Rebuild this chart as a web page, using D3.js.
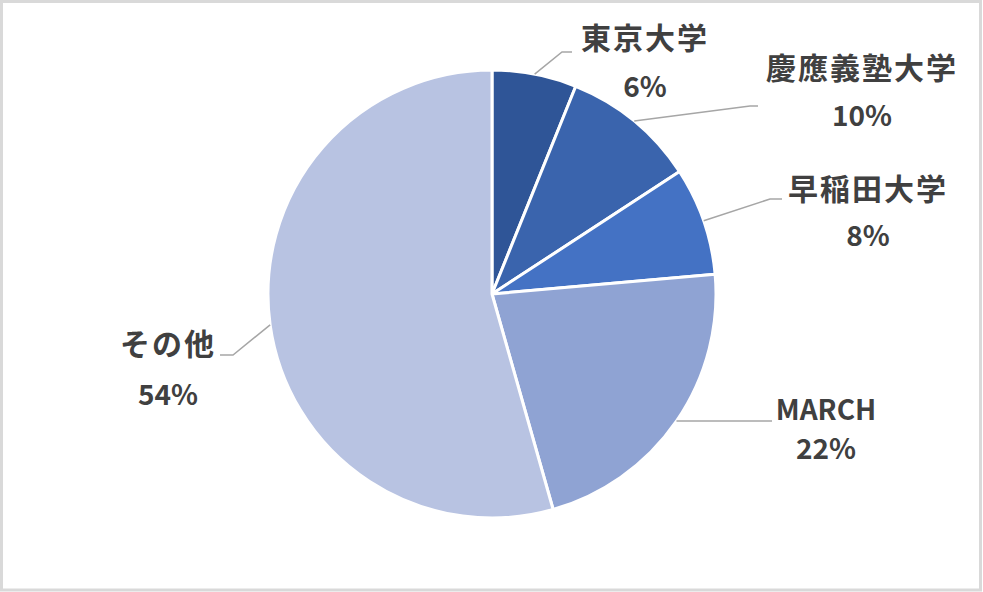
<!DOCTYPE html>
<html>
<head>
<meta charset="utf-8">
<script src="https://cdn.jsdelivr.net/npm/d3@7/dist/d3.min.js"></script>
<style>
  html, body { margin: 0; padding: 0; background: #fff; }
  svg { display: block; }
  text { font-family: "Noto Sans CJK JP", "Noto Sans", sans-serif; font-weight: 700; fill: #404040; }
</style>
</head>
<body>
<svg id="chart" width="983" height="592"></svg>
<script>
// ---- data ----
const categories = ["東京大学", "慶應義塾大学", "早稲田大学", "MARCH", "その他"];
const values = [6.1, 9.7, 7.8, 22.0, 54.4];
const percentLabels = ["6%", "10%", "8%", "22%", "54%"];
const colors = ["#2F5597", "#3A64AD", "#4472C4", "#8FA3D3", "#B8C3E2"];

// ---- layout (label placement, not data) ----
const labelLayout = [
  { x: 645, nameY: 49,  pctY: 97,  elbow: [562, 52],  end: [572, 52] },
  { x: 862, nameY: 79,  pctY: 126, elbow: [750, 106], end: [758, 106] },
  { x: 868, nameY: 200, pctY: 246, elbow: [770, 199], end: [782, 199] },
  { x: 826, nameY: 420, pctY: 459, elbow: [768, 421], end: [772, 421] },
  { x: 168, nameY: 355, pctY: 405, elbow: [233, 355], end: [220, 355] }
];

const W = 983, H = 592;
const cx = 492, cy = 294, r = 224;

const svg = d3.select("#chart");

svg.append("rect")
  .attr("x", 1.5).attr("y", 1.5)
  .attr("width", W - 4).attr("height", H - 3.5)
  .attr("fill", "#fff")
  .attr("stroke", "#D9D9D9")
  .attr("stroke-width", 3);

const data = categories.map((c, i) => ({ name: c, value: values[i], pct: percentLabels[i], color: colors[i], layout: labelLayout[i] }));

const pie = d3.pie().value(d => d.value).sort(null);
const arcs = pie(data);
const arc = d3.arc().innerRadius(0).outerRadius(r);

const g = svg.append("g").attr("transform", `translate(${cx},${cy})`);

g.selectAll("path.slice")
  .data(arcs)
  .join("path")
  .attr("class", "slice")
  .attr("d", arc)
  .attr("fill", d => d.data.color)
  .attr("stroke", "#fff")
  .attr("stroke-width", 3)
  .attr("stroke-linejoin", "round");

// leader lines
svg.selectAll("polyline.leader")
  .data(arcs)
  .join("polyline")
  .attr("class", "leader")
  .attr("fill", "none")
  .attr("stroke", "#A6A6A6")
  .attr("stroke-width", 1.5)
  .attr("points", d => {
    const a = (d.startAngle + d.endAngle) / 2;
    const sx = cx + Math.sin(a) * r;
    const sy = cy - Math.cos(a) * r;
    const L = d.data.layout;
    return [[sx, sy], L.elbow, L.end].map(p => p.join(",")).join(" ");
  });

// labels
const labels = svg.selectAll("g.label")
  .data(arcs)
  .join("g")
  .attr("class", "label");

labels.append("text")
  .attr("x", d => d.data.layout.x)
  .attr("y", d => d.data.layout.nameY)
  .attr("text-anchor", "middle")
  .attr("font-size", d => /^[A-Z]+$/.test(d.data.name) ? 28 : 30)
  .attr("letter-spacing", d => /^[A-Z]+$/.test(d.data.name) ? 0 : 2)
  .text(d => d.data.name);

labels.append("text")
  .attr("x", d => d.data.layout.x)
  .attr("y", d => d.data.layout.pctY)
  .attr("text-anchor", "middle")
  .attr("font-size", 28)
  .text(d => d.data.pct);
</script>
</body>
</html>
